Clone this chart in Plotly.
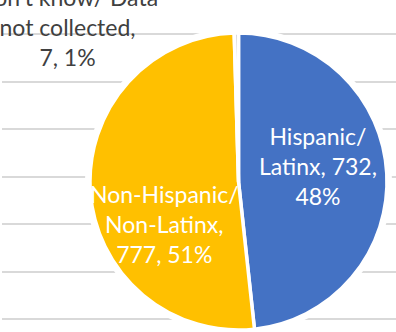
import plotly.graph_objects as go

# Ethnicity breakdown
categories = ["Hispanic/<br>Latinx", "Non-Hispanic/<br>Non-Latinx", "Don't know/ Data<br>not collected"]
counts = [732, 777, 7]
pct_labels = ["48%", "51%", "1%"]
colors = ["#4472C4", "#FFC000", "#D0CECE"]

# Background rule lines (hidden axis ticks)
rule_ticks = [0, 1, 2, 3, 4, 5, 6]

W, H = 396, 332
FONT = "Lato"
FS = 23
pie_domain = dict(x=[90 / W, 387 / W], y=[2 / H, 299 / H])

fig = go.Figure()

# invisible carrier trace so the cartesian grid is rendered
fig.add_trace(go.Scatter(x=[0], y=[rule_ticks[0]], mode="markers",
                         marker=dict(opacity=0), hoverinfo="skip", showlegend=False))

# white halo behind the pie
fig.add_trace(go.Pie(values=[1], labels=[""], domain=pie_domain, sort=False,
                     marker=dict(colors=["white"], line=dict(color="white", width=10)),
                     textinfo="none", hoverinfo="skip", showlegend=False))

fig.add_trace(go.Pie(
    labels=categories, values=counts, domain=pie_domain,
    sort=False, direction="clockwise", rotation=0,
    marker=dict(colors=colors, line=dict(color="white", width=3.5)),
    textinfo="none", showlegend=False, hoverinfo="label+value",
))

# data labels
label_texts = [
    f"{categories[0]}, {counts[0]},<br>{pct_labels[0]}",
    f"{categories[1]},<br>{counts[1]}, {pct_labels[1]}",
    f"{categories[2]},<br>{counts[2]}, {pct_labels[2]}",
]
label_pos = [(318, 166), (164, 224), (67, 27)]
label_colors = ["white", "white", "#404040"]
for txt, (px, py), col in zip(label_texts, label_pos, label_colors):
    fig.add_annotation(
        text=txt, xref="paper", yref="paper", x=px / W, y=1 - py / H,
        xanchor="center", yanchor="middle", showarrow=False,
        font=dict(family=FONT, size=FS, color=col),
    )

fig.update_layout(
    width=W, height=H, margin=dict(l=0, r=0, t=0, b=0),
    paper_bgcolor="white", plot_bgcolor="white",
    xaxis=dict(domain=[2 / W, 1], range=[0, 1], visible=True, showgrid=False,
               showticklabels=False, zeroline=False, showline=False, ticks=""),
    yaxis=dict(range=[-13 / 47.5, 319 / 47.5], tickvals=rule_ticks, showgrid=True,
               gridcolor="#D9D9D9", gridwidth=2, showticklabels=False,
               zeroline=False, showline=False, ticks=""),
)

fig.write_html("out.html")
